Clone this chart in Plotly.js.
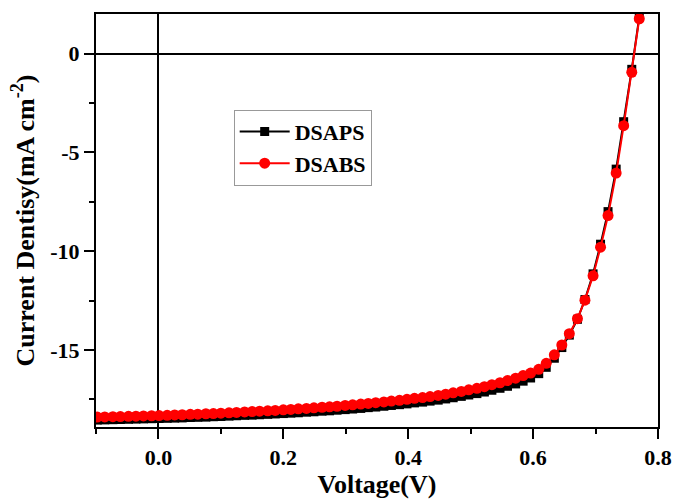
<!DOCTYPE html>
<html>
<head>
<meta charset="utf-8">
<script src="https://cdn.plot.ly/plotly-3.0.1.min.js"></script>
<style>html,body{margin:0;padding:0;background:#fff;}#chart{width:673px;height:499px;}</style>
</head>
<body>
<div id="chart"></div>
<script>
const voltage = [-0.098,-0.086,-0.073,-0.061,-0.048,-0.036,-0.024,-0.011,0.001,0.014,0.026,0.038,0.051,0.063,0.076,0.088,0.100,0.113,0.125,0.138,0.150,0.162,0.175,0.187,0.200,0.212,0.224,0.237,0.249,0.262,0.274,0.286,0.299,0.311,0.324,0.336,0.348,0.361,0.373,0.386,0.398,0.410,0.423,0.435,0.448,0.460,0.472,0.485,0.497,0.510,0.522,0.534,0.547,0.559,0.572,0.584,0.596,0.609,0.621,0.634,0.646,0.658,0.671,0.683,0.696,0.708,0.720,0.733,0.745,0.758,0.770];
const dsaps = [-18.55,-18.54,-18.53,-18.52,-18.51,-18.50,-18.49,-18.48,-18.47,-18.46,-18.45,-18.44,-18.42,-18.41,-18.40,-18.38,-18.37,-18.35,-18.33,-18.31,-18.30,-18.28,-18.26,-18.24,-18.22,-18.20,-18.18,-18.15,-18.13,-18.10,-18.08,-18.05,-18.02,-17.99,-17.96,-17.92,-17.89,-17.85,-17.81,-17.77,-17.73,-17.68,-17.64,-17.59,-17.54,-17.48,-17.42,-17.35,-17.28,-17.21,-17.13,-17.04,-16.94,-16.84,-16.72,-16.58,-16.42,-16.20,-15.88,-15.42,-14.88,-14.25,-13.45,-12.45,-11.15,-9.65,-8.00,-5.85,-3.45,-0.80,1.85];
const dsabs = [-18.40,-18.39,-18.38,-18.37,-18.36,-18.35,-18.34,-18.33,-18.32,-18.31,-18.29,-18.28,-18.26,-18.25,-18.23,-18.22,-18.20,-18.18,-18.16,-18.14,-18.12,-18.10,-18.08,-18.06,-18.03,-18.01,-17.98,-17.96,-17.93,-17.90,-17.88,-17.85,-17.81,-17.78,-17.74,-17.71,-17.67,-17.63,-17.59,-17.55,-17.50,-17.45,-17.41,-17.36,-17.30,-17.24,-17.17,-17.10,-17.02,-16.94,-16.86,-16.76,-16.66,-16.55,-16.43,-16.30,-16.17,-15.98,-15.68,-15.25,-14.75,-14.18,-13.42,-12.48,-11.25,-9.80,-8.20,-6.05,-3.65,-0.95,1.76];
const seriesNames = ["DSAPS", "DSABS"];
const xTickVals = [0.0, 0.2, 0.4, 0.6, 0.8];
const xTickText = ["0.0", "0.2", "0.4", "0.6", "0.8"];
const yTickVals = [-15, -10, -5, 0];
const yTickText = ["-15", "-10", "-5", "0"];

const FONT = "Liberation Serif, Times New Roman, serif";

const traces = [
  {x: voltage, y: dsaps, name: seriesNames[0], type: "scatter", mode: "lines+markers",
   line: {color: "#000000", width: 2}, marker: {symbol: "square", size: 9, color: "#000000"}},
  {x: voltage, y: dsabs, name: seriesNames[1], type: "scatter", mode: "lines+markers",
   line: {color: "#ff0000", width: 2}, marker: {symbol: "circle", size: 11, color: "#ff0000"}}
];

const axisCommon = {
  showline: true, linecolor: "#000", linewidth: 2, mirror: true,
  showgrid: false, zeroline: true, zerolinecolor: "#000", zerolinewidth: 2,
  ticks: "outside", ticklen: 10, tickwidth: 2, tickcolor: "#000",
  tickfont: {family: FONT, size: 22, color: "#000", weight: "bold"}
};

const layout = {
  width: 673, height: 499,
  margin: {l: 96, r: 15, t: 14, b: 72},
  paper_bgcolor: "#fff", plot_bgcolor: "#fff",
  showlegend: true,
  xaxis: Object.assign({}, axisCommon, {
    range: [-0.1, 0.8], tickvals: xTickVals, ticktext: xTickText,
    minor: {dtick: 0.1, tick0: 0, ticks: "outside", ticklen: 5, tickwidth: 2, tickcolor: "#000", showgrid: false},
    title: {text: "Voltage(V)", font: {family: FONT, size: 26, color: "#000", weight: "bold"}, standoff: 4}
  }),
  yaxis: Object.assign({}, axisCommon, {
    range: [-18.9, 2], tickvals: yTickVals, ticktext: yTickText,
    minor: {dtick: 2.5, tick0: 0, ticks: "outside", ticklen: 5, tickwidth: 2, tickcolor: "#000", showgrid: false},
    title: {text: "Current Dentisy(mA cm<sup>-2</sup>)", font: {family: FONT, size: 26, color: "#000", weight: "bold"}, standoff: 8}
  }),
  legend: {
    x: 0.245, y: 0.768, xanchor: "left", yanchor: "top",
    bgcolor: "#fff", bordercolor: "#999", borderwidth: 1,
    font: {family: FONT, size: 22, color: "#000", weight: "bold"},
    itemwidth: 50, tracegroupgap: 0
  }
};

Plotly.newPlot("chart", traces, layout, {staticPlot: true, displayModeBar: false});
</script>
</body>
</html>
